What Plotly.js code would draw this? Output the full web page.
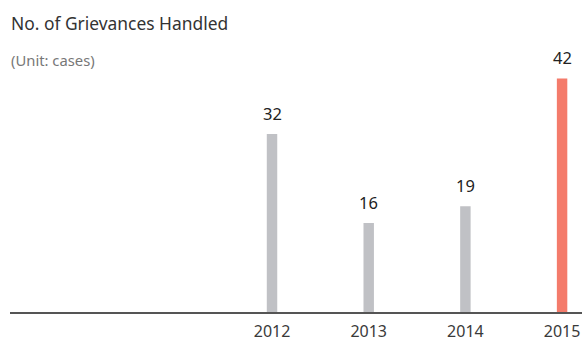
<!DOCTYPE html>
<html>
<head>
<meta charset="utf-8">
<script src="https://cdn.plot.ly/plotly-3.0.1.min.js"></script>
<style>html,body{margin:0;padding:0;background:#fff;}#chart{width:582px;height:341px;}</style>
</head>
<body>
<div id="chart"></div>
<script>
const years = [2012, 2013, 2014, 2015];
const cases = [32, 16, 19, 42];
const tickLabels = ["2012", "2013", "2014", "2015"];
const barColors = ["#c0c1c5", "#c0c1c5", "#c0c1c5", "#f47b6b"];

const FONT = "'Noto Sans', 'Open Sans', sans-serif";

const trace = {
  type: "bar",
  x: years,
  y: cases,
  width: 0.108,
  marker: {color: barColors},
  hoverinfo: "skip"
};

const valueLabels = years.map((yr, i) => ({
  x: yr, y: cases[i], xref: "x", yref: "y",
  text: String(cases[i]), showarrow: false,
  xanchor: "center", yanchor: "middle", yshift: 20.5,
  font: {family: FONT, size: 16.5, color: "#222"}
}));

const layout = {
  width: 582,
  height: 341,
  margin: {l: 10, r: 0, t: 0, b: 29},
  paper_bgcolor: "#fff",
  plot_bgcolor: "#fff",
  showlegend: false,
  font: {family: FONT},
  xaxis: {
    range: [2009.29, 2015.206],
    tickvals: years,
    ticktext: tickLabels,
    showgrid: false,
    zeroline: false,
    showline: true,
    linecolor: "#555",
    linewidth: 1.5,
    ticks: "",
    ticklabelstandoff: 4,
    tickfont: {family: FONT, size: 16, color: "#3a3a3a"},
    fixedrange: true
  },
  yaxis: {
    range: [0, 56.1],
    visible: false,
    fixedrange: true
  },
  annotations: [
    {text: "No. of Grievances Handled", xref: "paper", yref: "paper", x: 0, y: 1, xanchor: "left", yanchor: "top",
     yshift: -9, xshift: -1, showarrow: false, font: {family: FONT, size: 17.4, color: "#333"}},
    {text: "(Unit: cases)", xref: "paper", yref: "paper", x: 0, y: 1, xanchor: "left", yanchor: "top",
     yshift: -48, xshift: -1, showarrow: false, font: {family: FONT, size: 14.8, color: "#777"}}
  ].concat(valueLabels)
};

Plotly.newPlot("chart", [trace], layout, {staticPlot: true, displayModeBar: false});
</script>
</body>
</html>
